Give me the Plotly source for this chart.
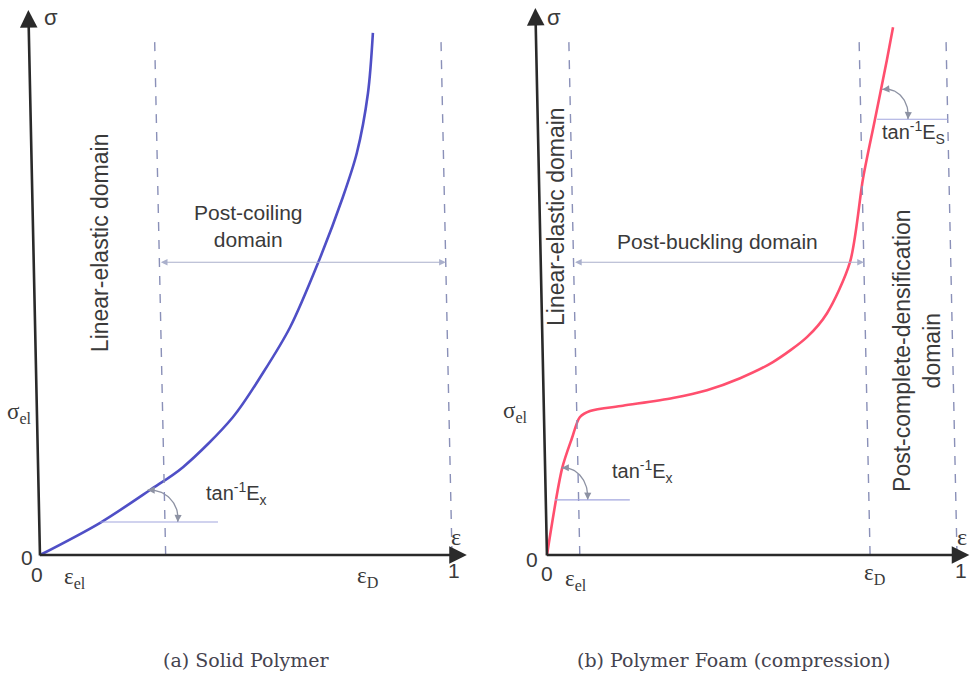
import numpy as np
import plotly.graph_objects as go

# Normalised strain / stress samples of the two responses
solid_strain = [0.0, 0.146, 0.267, 0.347, 0.468, 0.541, 0.607, 0.675, 0.735, 0.769, 0.796, 0.808]
solid_stress = [0.0, 0.062, 0.125, 0.169, 0.265, 0.350, 0.438, 0.562, 0.688, 0.773, 0.888, 1.004]

foam_strain = [0.0, 0.037, 0.061, 0.080, 0.105, 0.185, 0.307, 0.390, 0.471, 0.551,
               0.634, 0.683, 0.739, 0.771, 0.800, 0.829, 0.844]
foam_stress = [0.0, 0.167, 0.225, 0.265, 0.277, 0.287, 0.302, 0.317, 0.340, 0.371,
               0.419, 0.465, 0.563, 0.725, 0.838, 0.952, 1.015]

# Characteristic strains marked by dashed guides
solid_guides = [0.305, 1.0]
foam_guides = [0.080, 0.788, 1.0]

SANS = "Liberation Sans, Arial, sans-serif"
SERIF = "Liberation Serif, Times New Roman, serif"
CAPTION = "DejaVu Serif, serif"
INK = "#3a3a3a"
AXIS = "#2a2a2a"
GUIDE = "#8a90b8"
SPAN = "#aab0cc"
ANGLE = "#8d92a3"
BASE = "#a2a6de"

LEAN = -0.027       # slight lean of the vertical guides (strain per unit stress)
GUIDE_TOP = 1.0
SPAN_LEVEL = 0.563

fig = go.Figure()
shapes, notes = [], []


def arrow(xr, yr, tail, head, color, width, size, both=False):
    notes.append(dict(xref=xr, yref=yr, axref=xr, ayref=yr,
                      x=head[0], y=head[1], ax=tail[0], ay=tail[1], text="",
                      showarrow=True, arrowhead=2, arrowsize=size, arrowwidth=width,
                      arrowcolor=color, arrowside="end+start" if both else "end",
                      startarrowhead=2, startarrowsize=size,
                      standoff=0, startstandoff=0))


def label(xr, yr, x, y, text, family=SANS, size=21, angle=0, color=INK):
    notes.append(dict(xref=xr, yref=yr, x=x, y=y, text=text, showarrow=False,
                      textangle=angle, font=dict(family=family, size=size, color=color)))


def frame(xr, yr, x_tip, y_tip):
    # axes with arrow heads
    arrow(xr, yr, (-0.004, 0), (x_tip, 0), AXIS, 2.6, 1.35)
    arrow(xr, yr, (0, -0.004), (LEAN * y_tip, y_tip), AXIS, 2.6, 1.35)


def guides(xr, yr, eps_list):
    for e in eps_list:
        shapes.append(dict(type="line", xref=xr, yref=yr, x0=e, y0=0,
                           x1=e + LEAN * GUIDE_TOP, y1=GUIDE_TOP,
                           line=dict(color=GUIDE, width=1.4, dash="dash")))


def span(xr, yr, e0, e1):
    arrow(xr, yr, (e0 + LEAN * SPAN_LEVEL, SPAN_LEVEL), (e1 + LEAN * SPAN_LEVEL, SPAN_LEVEL),
          SPAN, 1.1, 1.2, both=True)


def angle_mark(xr, yr, base_y, base_x0, base_x1, cx, cy, rx, ry, t0, t1):
    shapes.append(dict(type="line", xref=xr, yref=yr, x0=base_x0, y0=base_y,
                       x1=base_x1, y1=base_y, line=dict(color=BASE, width=1.2)))
    t = np.radians(np.linspace(t0, t1, 40))
    ax_, ay_ = cx + rx * np.cos(t), cy + ry * np.sin(t)
    fig.add_trace(go.Scatter(x=ax_, y=ay_, mode="lines", xaxis=xr, yaxis=yr,
                             line=dict(color=ANGLE, width=1.3), hoverinfo="skip",
                             showlegend=False))
    arrow(xr, yr, (ax_[4], ay_[4]), (ax_[0], ay_[0]), ANGLE, 1.3, 1.1)
    arrow(xr, yr, (ax_[-5], ay_[-5]), (ax_[-1], ay_[-1]), ANGLE, 1.3, 1.1)


# ---- (a) solid polymer ----
fig.add_trace(go.Scatter(x=solid_strain, y=solid_stress, mode="lines", xaxis="x", yaxis="y",
                         name="Solid polymer", showlegend=False,
                         line=dict(color="#4f4fc6", width=2.6, shape="spline", smoothing=0.9)))
frame("x", "y", 1.036, 1.048)
guides("x", "y", solid_guides)
span("x", "y", solid_guides[0], solid_guides[1])
angle_mark("x", "y", 0.0635, 0.146, 0.432, 0.267, 0.071, 0.068, 0.054, 95, -8)

label("x", "y", 0.027, 1.033, "σ", size=22)
label("x", "y", 1.010, 0.035, "ε", family=SERIF, size=24)
label("x", "y", 1.005, -0.030, "1")
label("x", "y", -0.007, -0.038, "0")
label("x", "y", -0.032, -0.004, "0")
label("x", "y", 0.085, -0.044, "ε<sub>el</sub>", family=SERIF, size=23)
label("x", "y", 0.796, -0.042, "ε<sub>D</sub>", family=SERIF, size=23)
label("x", "y", -0.049, 0.273, "σ<sub>el</sub>", family=SERIF, size=23)
label("x", "y", 0.146, 0.600, "Linear-elastic domain", size=23, angle=-90)
label("x", "y", 0.505, 0.633, "Post-coiling<br>domain", size=21)
label("x", "y", 0.476, 0.119, "tan<sup>-1</sup>E<sub>x</sub>", size=20)

# ---- (b) polymer foam ----
fig.add_trace(go.Scatter(x=foam_strain, y=foam_stress, mode="lines", xaxis="x2", yaxis="y2",
                         name="Polymer foam", showlegend=False,
                         line=dict(color="#ff4f6e", width=2.6, shape="spline", smoothing=0.8)))
frame("x2", "y2", 1.030, 1.052)
guides("x2", "y2", foam_guides)
span("x2", "y2", foam_guides[0], foam_guides[1])
angle_mark("x2", "y2", 0.106, 0.0195, 0.202, 0.041, 0.112, 0.0585, 0.056, 95, -6)
angle_mark("x2", "y2", 0.838, 0.805, 0.978, 0.827, 0.846, 0.054, 0.050, 100, -9)

label("x2", "y2", 0.017, 1.033, "σ", size=22)
label("x2", "y2", 1.012, 0.035, "ε", family=SERIF, size=24)
label("x2", "y2", 1.010, -0.030, "1")
label("x2", "y2", 0.0, -0.036, "0")
label("x2", "y2", -0.037, -0.008, "0")
label("x2", "y2", 0.070, -0.048, "ε<sub>el</sub>", family=SERIF, size=23)
label("x2", "y2", 0.798, -0.036, "ε<sub>D</sub>", family=SERIF, size=23)
label("x2", "y2", -0.078, 0.275, "σ<sub>el</sub>", family=SERIF, size=23)
label("x2", "y2", 0.022, 0.650, "Linear-elastic domain", size=23, angle=-90)
label("x2", "y2", 0.417, 0.602, "Post-buckling domain", size=21)
label("x2", "y2", 0.232, 0.160, "tan<sup>-1</sup>E<sub>x</sub>", size=20)
label("x2", "y2", 0.895, 0.813, "tan<sup>-1</sup>E<sub>S</sub>", size=20)
label("x2", "y2", 0.902, 0.394, "Post-complete-densification<br>domain", size=23, angle=-90)

# ---- captions ----
for cx, txt in [(0.254, "(a) Solid Polymer"), (0.756, "(b) Polymer Foam (compression)")]:
    notes.append(dict(xref="paper", yref="paper", x=cx, y=0.019, text=txt, showarrow=False,
                      xanchor="center", yanchor="middle",
                      font=dict(family=CAPTION, size=19, color="#45434f")))

Y_RANGE = [-0.2269, 1.0673]
fig.update_layout(
    width=970, height=673,
    margin=dict(l=0, r=0, t=0, b=0),
    paper_bgcolor="white", plot_bgcolor="white",
    xaxis=dict(domain=[0, 0.5], range=[-0.0971, 1.0801], visible=False, fixedrange=True),
    yaxis=dict(domain=[0, 1], range=Y_RANGE, visible=False, fixedrange=True),
    xaxis2=dict(domain=[0.5, 1], range=[-0.1512, 1.0317], visible=False, anchor="y2",
                fixedrange=True),
    yaxis2=dict(domain=[0, 1], range=Y_RANGE, visible=False, anchor="x2", fixedrange=True),
    shapes=shapes,
    annotations=notes,
    showlegend=False,
)

fig.write_html("out.html")
